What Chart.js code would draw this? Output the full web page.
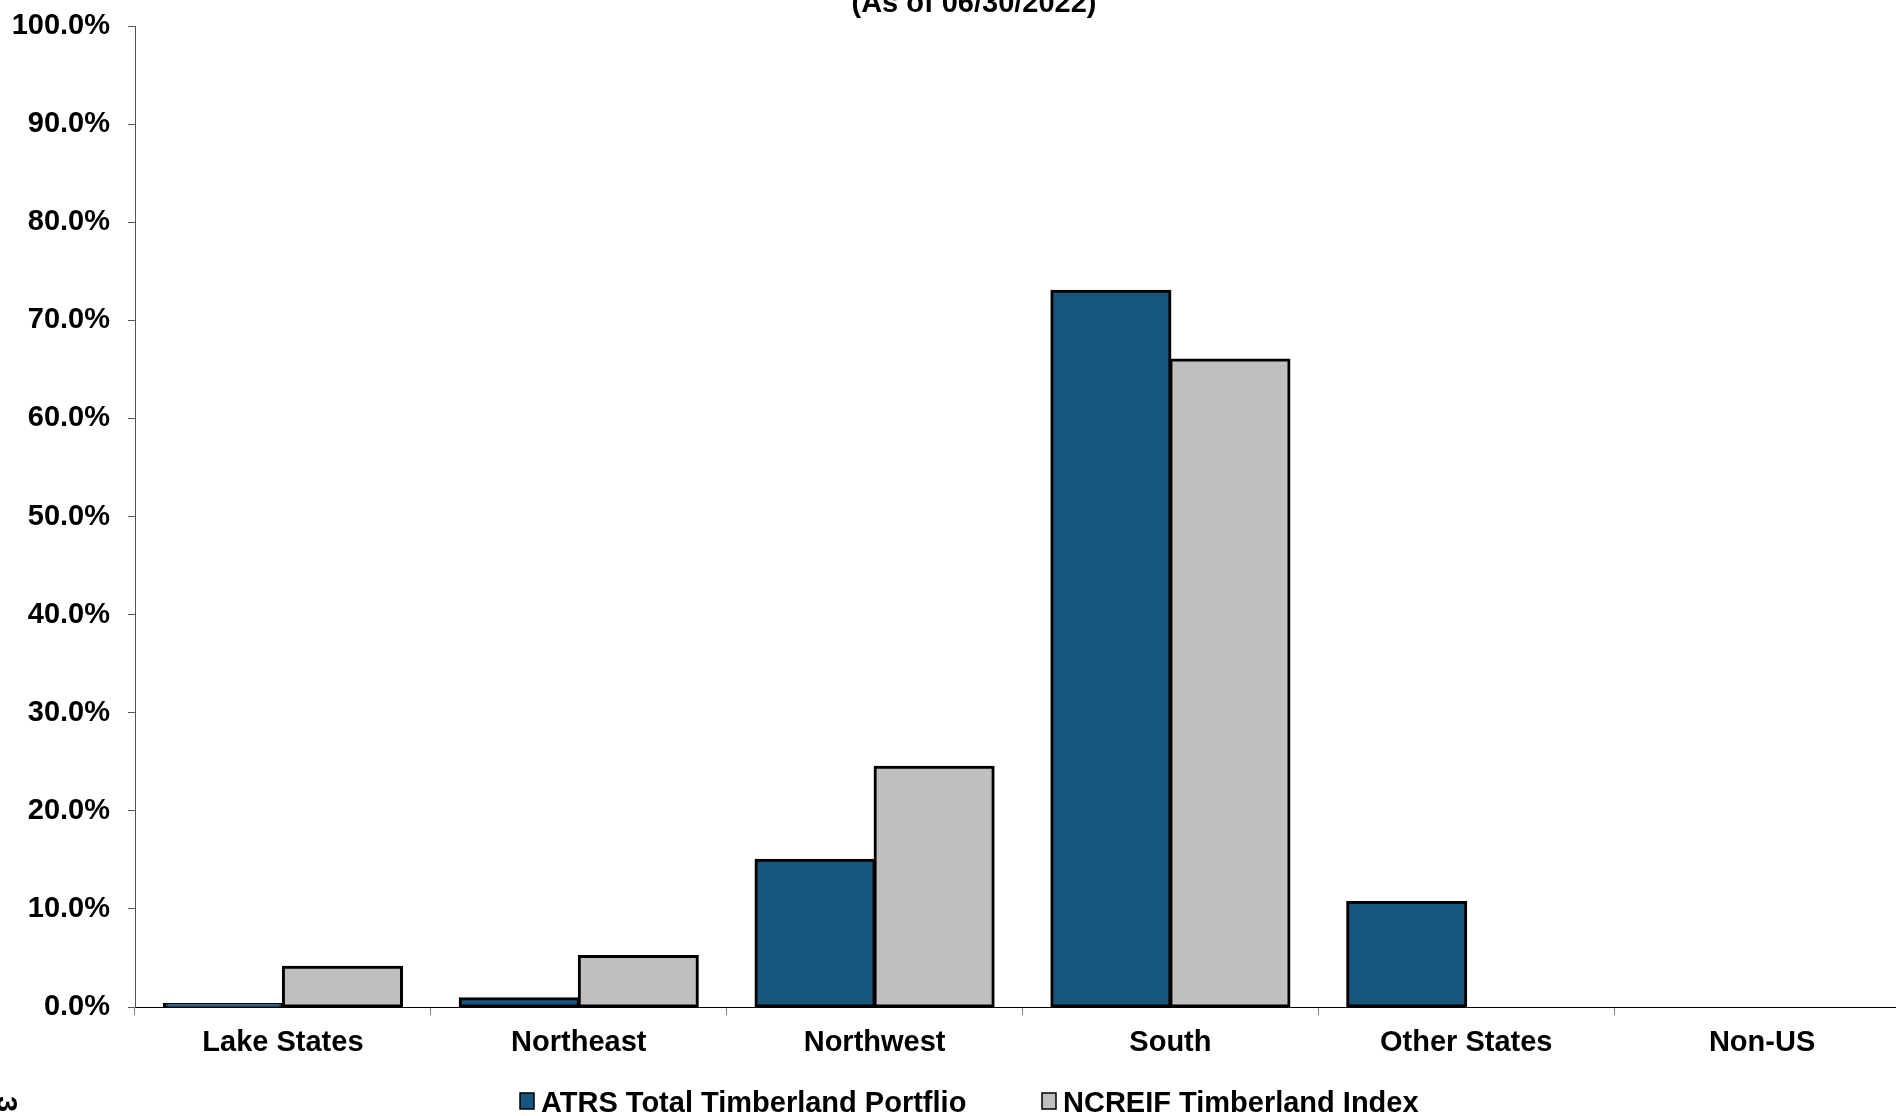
<!DOCTYPE html>
<html>
<head>
<meta charset="utf-8">
<title>Timberland Regional Allocation</title>
<script src="https://cdn.jsdelivr.net/npm/chart.js@4.4.0/dist/chart.umd.min.js"></script>
<style>
  html, body { margin: 0; padding: 0; background: #fff; overflow: hidden; }
  #wrap { width: 1896px; height: 1116px; overflow: hidden; position: relative; }
  canvas { display: block; }
</style>
</head>
<body>
<div id="wrap"><canvas id="regionChart" width="1912" height="1116"></canvas></div>
<script>
// 데이터
const categories = ['Lake States', 'Northeast', 'Northwest', 'South', 'Other States', 'Non-US'];
const atrsValues = [0.3, 0.9, 15.0, 73.0, 10.7, 0];
const ncreifValues = [4.1, 5.2, 24.5, 66.0, 0, 0];
const seriesNames = ['ATRS Total Timberland Portflio', 'NCREIF Timberland Index'];
const yTicks = [0, 10, 20, 30, 40, 50, 60, 70, 80, 90, 100];
const subtitle = '(As of 06/30/2022)';

const FONT = "'Liberation Sans', Arial, sans-serif";
const BLUE = '#16567f';
const GREY = '#bfbfbf';

// 잘린 제목, 범례, 왼쪽 아래 글자
const extrasPlugin = {
    id: 'extras',
    afterDraw(chart) {
        const ctx = chart.ctx;
        ctx.save();
        ctx.fillStyle = '#000';
        ctx.font = 'bold 29px ' + FONT;
        ctx.textAlign = 'center';
        ctx.textBaseline = 'alphabetic';
        ctx.fillText(subtitle, 974, 12);

        // 범례
        const ds = chart.data.datasets;
        const boxX = [520, 1042];
        const cy = 1101;
        ctx.textAlign = 'left';
        ctx.textBaseline = 'middle';
        ds.forEach((d, i) => {
            const x = boxX[i];
            ctx.fillStyle = d.backgroundColor;
            ctx.fillRect(x, cy - 8, 14, 16);
            ctx.strokeStyle = '#000';
            ctx.lineWidth = 1.5;
            ctx.strokeRect(x, cy - 8, 14, 16);
            ctx.fillStyle = '#000';
            ctx.fillText(d.label, x + 21, cy + 3);
        });

        // 회전된 페이지 번호
        ctx.translate(-3, 1104);
        ctx.rotate(Math.PI / 2);
        ctx.textAlign = 'center';
        ctx.textBaseline = 'alphabetic';
        ctx.fillText('3', 0, 0);
        ctx.restore();
    }
};

new Chart(document.getElementById('regionChart').getContext('2d'), {
    type: 'bar',
    data: {
        labels: categories,
        datasets: [{
            label: seriesNames[0],
            data: atrsValues,
            backgroundColor: BLUE,
            borderColor: '#000',
            borderWidth: 3,
            borderSkipped: false,
            inflateAmount: 1,
            categoryPercentage: 0.805,
            barPercentage: 1.0
        }, {
            label: seriesNames[1],
            data: ncreifValues,
            backgroundColor: GREY,
            borderColor: '#000',
            borderWidth: 3,
            borderSkipped: false,
            inflateAmount: 1,
            categoryPercentage: 0.805,
            barPercentage: 1.0
        }]
    },
    options: {
        responsive: false,
        animation: false,
        devicePixelRatio: 1,
        layout: { padding: { top: 26, left: 0, right: 2, bottom: 49 } },
        plugins: {
            legend: { display: false },
            title: { display: false },
            tooltip: { enabled: false }
        },
        scales: {
            x: {
                grid: {
                    display: true,
                    drawOnChartArea: false,
                    drawTicks: true,
                    tickLength: 8,
                    color: '#808080',
                    offset: true
                },
                border: { display: true, color: '#000', width: 1 },
                ticks: {
                    color: '#000',
                    padding: 11,
                    maxRotation: 0,
                    font: { family: FONT, size: 29, weight: 'bold' }
                },
                afterFit(scale) { scale.height = 60; }
            },
            y: {
                min: 0,
                max: 100,
                afterBuildTicks(scale) {
                    scale.ticks = yTicks.map(v => ({ value: v }));
                },
                grid: {
                    display: true,
                    drawOnChartArea: false,
                    drawTicks: true,
                    tickLength: 7,
                    color: '#555'
                },
                border: { display: true, color: '#555', width: 1 },
                ticks: {
                    color: '#000',
                    padding: 18,
                    font: { family: FONT, size: 29, weight: 'bold' },
                    callback: v => v.toFixed(1) + '%'
                },
                afterFit(scale) {
                    scale.width = 135;
                    scale.paddingTop = 0;
                    scale.paddingBottom = 0;
                }
            }
        }
    },
    plugins: [extrasPlugin]
});
</script>
</body>
</html>
